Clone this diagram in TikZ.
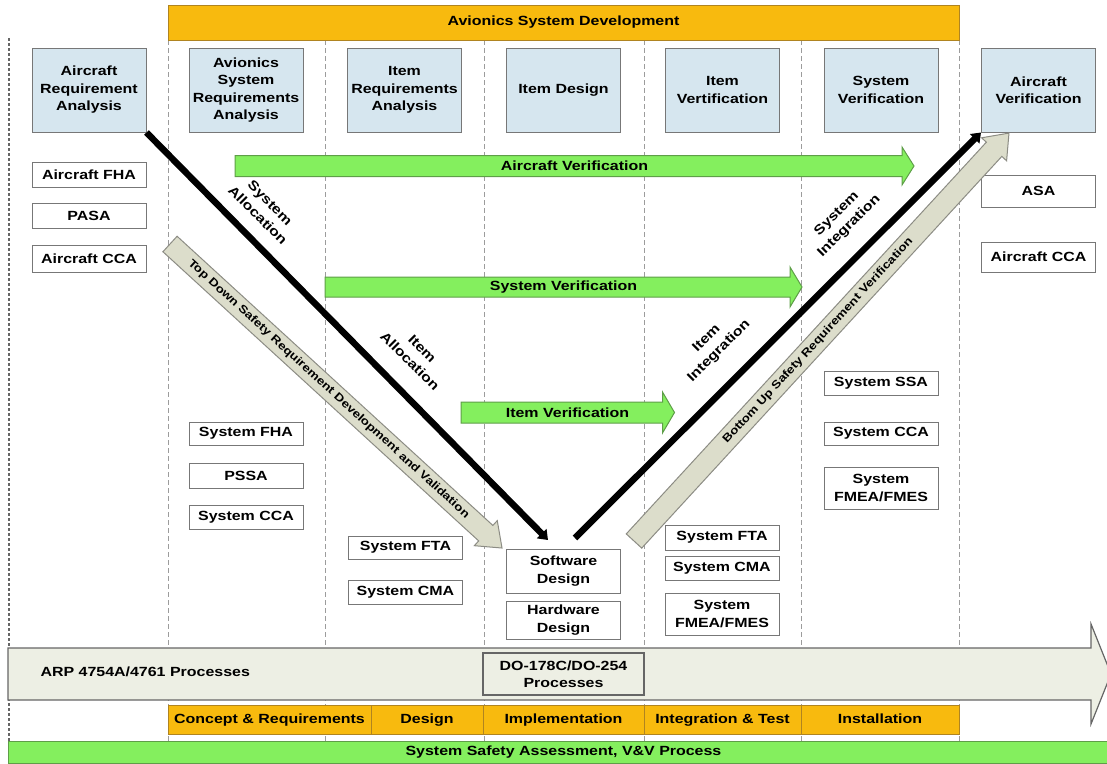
\documentclass[tikz,border=0pt]{standalone}
\usepackage{fontspec}
\setmainfont{Liberation Sans}[FakeStretch=1.2]
\usetikzlibrary{arrows.meta}
\definecolor{boxblue}{HTML}{D6E6EF}
\definecolor{vorange}{HTML}{F8BA0E}
\definecolor{vorangeedge}{HTML}{B08420}
\definecolor{vgreen}{HTML}{84EF5E}
\definecolor{vgreenedge}{HTML}{5E9E48}
\definecolor{arrgray}{HTML}{DCDDCB}
\definecolor{arrgrayedge}{HTML}{8C8C84}
\definecolor{bigarr}{HTML}{EDEFE4}
\definecolor{edgegray}{HTML}{777777}
\definecolor{colline}{HTML}{9C9C9C}
% horizontal block arrow: x0, xtip, yc, shaft half, head half, head length, style
\newcommand\harr[7]{%
  \draw[#7] (#1,{#3-#4}) -- ({#2-#6},{#3-#4}) -- ({#2-#6},{#3-#5}) -- (#2,#3)
    -- ({#2-#6},{#3+#5}) -- ({#2-#6},{#3+#4}) -- (#1,{#3+#4}) -- cycle;}
% block arrow along the x axis of a rotated scope: length, shaft half, head half, head length, style
\newcommand\rarr[5]{%
  \draw[#5] (0,-#2) -- ({#1-#4},-#2) -- ({#1-#4},-#3) -- (#1,0)
    -- ({#1-#4},#3) -- ({#1-#4},#2) -- (0,#2) -- cycle;}
\begin{document}
\begin{tikzpicture}[x=1pt,y=-1pt,
  font=\fontsize{13.3}{17.5}\selectfont\bfseries,
  phase/.style={draw=edgegray, fill=boxblue, line width=1pt, minimum width=114pt,
    minimum height=84pt, align=center, inner sep=1pt},
  wbox/.style={draw=edgegray, fill=white, line width=1pt, minimum width=114pt,
    align=center, inner sep=1pt},
  colsep/.style={draw=colline, line width=0.9pt, dash pattern=on 5pt off 3pt},
  greenarr/.style={fill=vgreen, draw=vgreenedge, line width=1pt},
  grayarr/.style={fill=arrgray, draw=arrgrayedge, line width=1pt},
  blackline/.style={line width=6.5pt, -{Triangle[width=13pt,length=9pt]}},
  seg/.style={draw=vorangeedge, fill=vorange, line width=1pt, minimum height=29pt,
    inner sep=0pt, text height=9.5pt, text depth=2.5pt},
  diaglbl/.style={align=center, inner sep=1pt},
  smalltxt/.style={font=\fontsize{11.2}{13}\selectfont\bfseries}]
\useasboundingbox (0,0) rectangle (1107,763);

% column separators
\foreach \xx in {168,325,484,644,801,959}
  \draw[colsep] (\xx,40) -- (\xx,741);
\draw[draw=black!60, line width=1.6pt, dash pattern=on 3pt off 2pt] (9,38) -- (9,745);

% top bar
\node[draw=vorangeedge, fill=vorange, line width=1pt, minimum width=791pt, minimum height=35pt, inner sep=0pt]
  (avdev) at (563.5,22.5) {Avionics System Development};

% phase boxes
\node[phase] (arareq)   at (89,90)    {Aircraft\\Requirement\\Analysis};
\node[phase] (avsysreq) at (246,90)   {Avionics\\System\\Requirements\\Analysis};
\node[phase] (itemreq)  at (404.5,90) {Item\\Requirements\\Analysis};
\node[phase] (itemdes)  at (563.5,90) {Item Design};
\node[phase] (itemver)  at (722.5,90) {Item\\Vertification};
\node[phase] (sysver)   at (881,90)   {System\\Verification};
\node[phase] (acver)    at (1038.5,90){Aircraft\\Verification};

% safety boxes
\node[wbox, minimum height=25pt] (afha)  at (89,174.5)  {Aircraft FHA};
\node[wbox, minimum height=25pt] (pasa)  at (89,215.5)  {PASA};
\node[wbox, minimum height=27pt] (acca)  at (89,258.5)  {Aircraft CCA};
\node[wbox, minimum height=32pt] (asa)   at (1038.5,191){ASA};
\node[wbox, minimum height=30pt] (acca2) at (1038.5,257){Aircraft CCA};
\node[wbox, minimum height=23pt] (sfha)  at (246,433.5) {System FHA};
\node[wbox, minimum height=25pt] (pssa)  at (246,475.5) {PSSA};
\node[wbox, minimum height=24pt] (scca)  at (246,517)   {System CCA};
\node[wbox, minimum height=23pt] (sfta)  at (405.5,547.5) {System FTA};
\node[wbox, minimum height=24pt] (scma)  at (405.5,592) {System CMA};
\node[wbox, minimum height=44pt] (swd)   at (563.5,571) {Software\\Design};
\node[wbox, minimum height=38pt] (hwd)   at (563.5,620) {Hardware\\Design};
\node[wbox, minimum height=25pt] (sfta2) at (722,537.5) {System FTA};
\node[wbox, minimum height=24pt] (scma2) at (722,568)   {System CMA};
\node[wbox, minimum height=42pt] (sfmea2) at (722,614)  {System\\FMEA/FMES};
\node[wbox, minimum height=24pt] (sssa)  at (881,383)   {System SSA};
\node[wbox, minimum height=23pt] (scca2) at (881,433.5) {System CCA};
\node[wbox, minimum height=42pt] (sfmea3) at (881,488)  {System\\FMEA/FMES};

% green verification arrows
\harr{235}{914}{166}{10.5}{19}{12}{greenarr}
\node (avtxt) at (574.5,166) {Aircraft Verification};
\harr{325}{802}{287}{10}{20}{12}{greenarr}
\node (svtxt) at (563.5,287) {System Verification};
\harr{461}{674.5}{412.5}{10.5}{20.5}{12}{greenarr}
\node (ivtxt) at (567.5,412.5) {Item Verification};

% V lines
\coordinate (vtipL) at (548,540);
\coordinate (vbotR) at (575,538);
\draw[blackline] (arareq.south east) -- (vtipL);
\draw[blackline] (vbotR) -- (acver.south west);

\node[diaglbl, rotate=-45] (salloc) at (264,209) {System\\Allocation};
\node[diaglbl, rotate=-45] (ialloc) at (416,355) {Item\\Allocation};
\node[diaglbl, rotate=45]  (sinteg) at (843,220) {System\\Integration};
\node[diaglbl, rotate=45]  (iinteg) at (713,345) {Item\\Integration};

% safety flow arrows
\begin{scope}[shift={(170,244)}, rotate=-42.48]
  \rarr{450.2}{10.5}{17}{22}{grayarr}
  \node[smalltxt, transform shape] (tdtxt) at (215,0) {Top Down Safety Requirement Development and Validation};
\end{scope}
\begin{scope}[shift={(634,541)}, rotate=47.41]
  \rarr{554.1}{10.5}{17}{22}{grayarr}
  \node[smalltxt, transform shape] (butxt) at (272,0) {Bottom Up Safety Requirement Verification};
\end{scope}

% big process arrow
\harr{8}{1111}{674}{26}{50}{20}{fill=bigarr, draw=black!60, line width=1.2pt}
\node[anchor=west] (arp) at (37,672) {ARP 4754A/4761 Processes};
\node[draw=black!60, fill=bigarr, line width=1.2pt, minimum width=161pt, minimum height=42pt,
  align=center, inner sep=1pt] (dobox) at (563.5,674) {DO-178C/DO-254\\Processes};

% lifecycle phases
\node[seg, minimum width=203pt] (ph1) at (269.5,719.5) {Concept \& Requirements};
\node[seg, minimum width=112pt] (ph2) at (427,719.5)   {Design};
\node[seg, minimum width=161pt] (ph3) at (563.5,719.5) {Implementation};
\node[seg, minimum width=157pt] (ph4) at (722.5,719.5) {Integration \& Test};
\node[seg, minimum width=158pt] (ph5) at (880,719.5)   {Installation};

% bottom bar
\node[draw=vgreenedge, fill=vgreen, line width=1pt, minimum width=1099pt, minimum height=22pt, inner sep=0pt]
  (ssa) at (557.5,752) {};
\node (ssatxt) at (563.5,752) {System Safety Assessment, V\&V Process};
\end{tikzpicture}
\end{document}
